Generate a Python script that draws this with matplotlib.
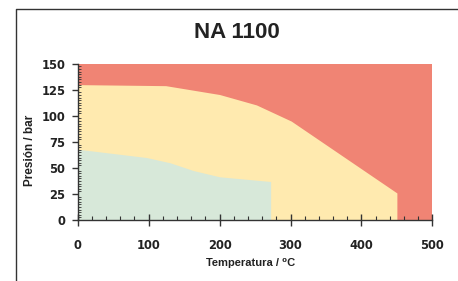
import matplotlib.pyplot as plt
from matplotlib.lines import Line2D
from matplotlib.ticker import MultipleLocator

# Operating limits
temp_limit = [0, 124, 200, 252, 301, 450]
pres_limit = [130, 129, 120.5, 110.5, 95, 26]

temp_safe = [0, 97, 130, 163, 200, 272]
pres_safe = [68, 60, 55, 47.5, 41.5, 37]

x_max = 500
y_max = 150

red = '#F08474'
yellow = '#FFEAAF'
green = '#D7E8D9'

tick_font = {'family': 'DejaVu Sans', 'weight': 'bold', 'size': 8.3}
label_font = ['Liberation Sans', 'DejaVu Sans']


def draw():
    fig = plt.figure(figsize=(4.58, 2.81), dpi=100)
    ax = fig.add_axes([0.1697, 0.217, 0.7743, 0.556])

    # Background zones
    ax.fill_between([0, x_max], 0, y_max, color=red, lw=0)
    ax.fill_between(temp_limit + [temp_limit[-1]], pres_limit + [0], 0,
                    color=yellow, lw=0)
    ax.fill_between(temp_safe + [temp_safe[-1]], pres_safe + [0], 0,
                    color=green, lw=0)

    ax.set_xlim(0, x_max)
    ax.set_ylim(0, y_max)

    for s in ['top', 'right']:
        ax.spines[s].set_visible(False)
    for s in ['left', 'bottom']:
        ax.spines[s].set_color('#333333')
        ax.spines[s].set_linewidth(1)

    ax.xaxis.set_major_locator(MultipleLocator(100))
    ax.xaxis.set_minor_locator(MultipleLocator(20))
    ax.yaxis.set_major_locator(MultipleLocator(25))
    ax.yaxis.set_minor_locator(MultipleLocator(2.5))

    ax.tick_params(axis='x', which='major', direction='inout', length=8,
                   width=1, color='#333333', pad=10)
    ax.tick_params(axis='x', which='minor', direction='in', length=3,
                   width=0.8, color='#333333')
    ax.tick_params(axis='y', which='major', direction='out', length=4,
                   width=1, color='#333333', pad=5)
    ax.tick_params(axis='y', which='minor', direction='in', length=2.5,
                   width=0.6, color='#333333')

    for lab in ax.get_xticklabels() + ax.get_yticklabels():
        lab.set_fontproperties(tick_font)
        lab.set_color('#222222')

    fig.text(0.518, 0.885, 'NA 1100', ha='center', va='center',
             family=label_font, weight='bold', size=16, color='#222222')
    fig.text(0.548, 0.064, 'Temperatura / \u2070C', ha='center', va='center',
             family=label_font, weight='bold', size=8, color='#222222')
    fig.text(0.066, 0.466, 'Presi\u00f3n / bar', ha='center', va='center',
             rotation=90, family=label_font, weight='bold', size=8.5,
             color='#222222')

    # Frame lines at the left and top of the picture
    fig.add_artist(Line2D([0.035, 0.035, 1.0], [0.0, 0.968, 0.968],
                          transform=fig.transFigure, color='#333333', lw=1))

    fig.savefig('out.png', dpi=100)


if __name__ == "__main__":
    draw()
